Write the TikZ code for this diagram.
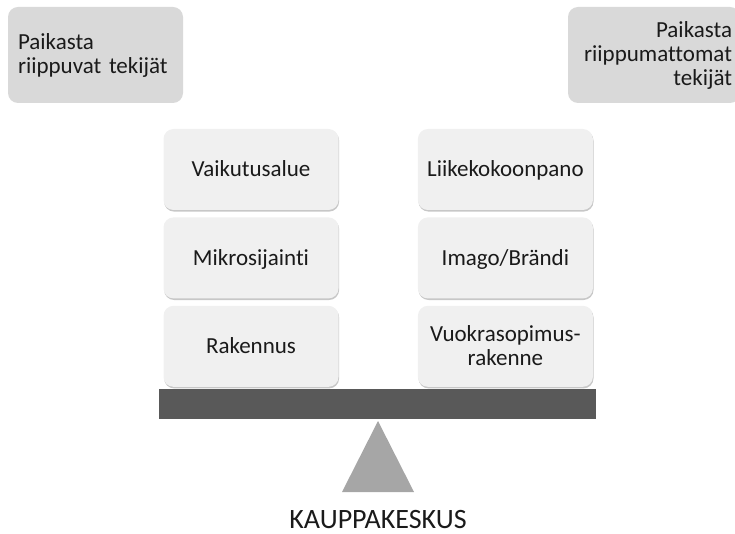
\documentclass[tikz,border=0pt]{standalone}
\usepackage{fontspec}
\setmainfont{Carlito}[Ligatures={NoCommon}]
\usepackage{tikz}
\usetikzlibrary{shadows,positioning}
\definecolor{txt}{HTML}{1A1A1A}
\definecolor{side}{HTML}{D9D9D9}
\definecolor{card}{HTML}{F0F0F0}
\definecolor{beamc}{HTML}{595959}
\definecolor{pivot}{HTML}{A6A6A6}

\begin{document}
\begin{tikzpicture}[
  x=1pt, y=-1pt,
  node distance=7pt and 79pt,
  side/.style={rectangle, fill=side, rounded corners=10pt, minimum height=96pt, font=\fontsize{23}{24}\selectfont, text=txt},
  item/.style={rectangle, fill=card, rounded corners=10pt, minimum height=81pt, minimum width=175pt, font=\fontsize{23}{24}\selectfont, text=txt, align=center, text height=14.8pt, text depth=0pt, drop shadow={shadow xshift=0.6pt, shadow yshift=-1.6pt, fill=black, opacity=0.22}},
  beam/.style={rectangle, fill=beamc, minimum height=30pt, minimum width=437pt, inner sep=0pt}
]
\clip (0,0) rectangle (735,534);

% Side labels
\node[side, minimum width=175pt, text width=155pt, inner xsep=10pt, align=left] (paik) at (95.5,55) {Paikasta\\riippuvat tekijät};
\node[side, minimum width=172pt, text width=156pt, inner xsep=8pt, align=right] (riip) at (654,55) {Paikasta\\riippumattomat\\tekijät};

% Left pile
\node[item] (vaik) at (251,169.5) {Vaikutusalue};
\node[item, below=of vaik] (mikro) {Mikrosijainti};
\node[item, below=of mikro] (rak) {Rakennus};

% Right pile
\node[item, right=of vaik] (liike) {Liikekokoonpano};
\node[item, below=of liike] (imago) {Imago/Brändi};
\node[item, below=of imago, text height=38.8pt] (vuokra) {Vuokrasopimus-\\rakenne};

% Scale
\node[beam] (vipu) at (377.5,404) {};
\fill[pivot] (378,421) -- (414,492) -- (342,492) -- cycle;
\node[anchor=base, inner sep=1pt, text depth=0pt, font=\fontsize{28}{32}\selectfont, text=txt] (kesk) at (378,528) {KAUPPAKESKUS};

\end{tikzpicture}
\end{document}
